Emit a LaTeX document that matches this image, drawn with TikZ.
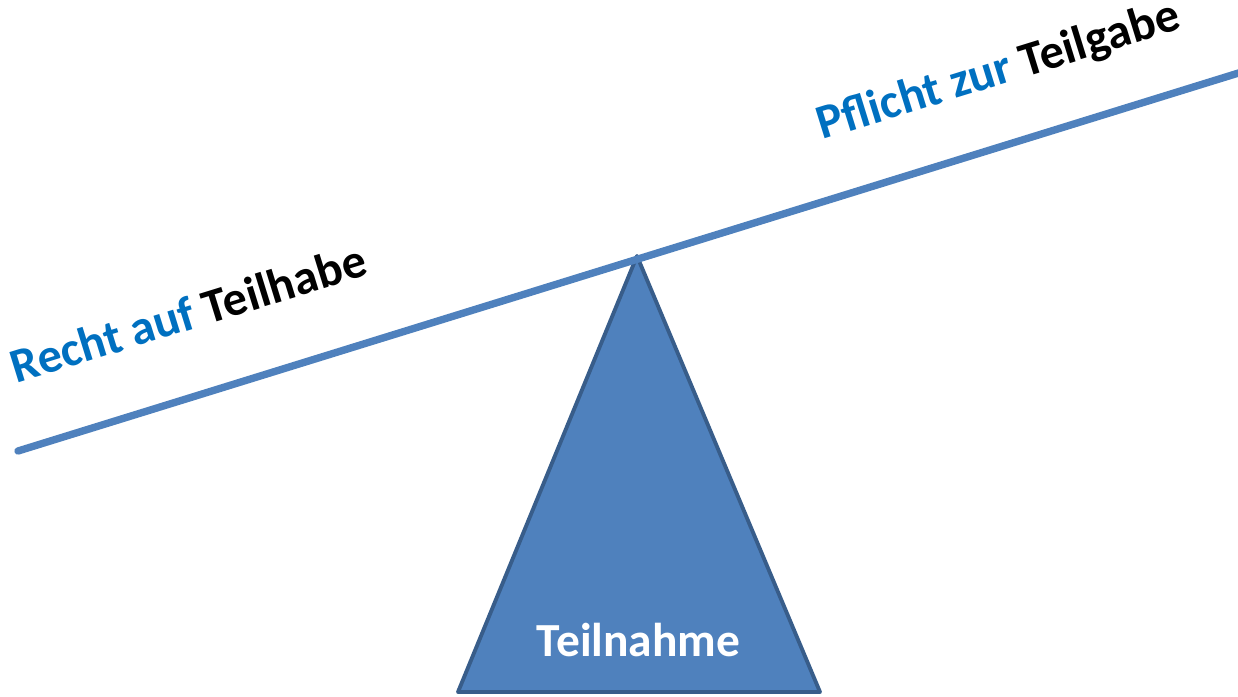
\documentclass[tikz,border=0pt]{standalone}
\usepackage{fontspec}
\setmainfont{Carlito}
\definecolor{beamblue}{HTML}{4F81BD}
\definecolor{edgeblue}{HTML}{385D8A}
\definecolor{wordblue}{HTML}{0070C0}
\tikzset{
  beam/.style={line width=2.1pt, beamblue, line cap=round},
  pivot/.style={fill=beamblue, draw=edgeblue, line width=1.1pt, line join=round},
  tilted/.style={anchor=base west, rotate=17.2, inner sep=0pt, font=\fontsize{13.8}{16}\selectfont\bfseries}
}
\begin{document}
\begin{tikzpicture}[x=0.01cm, y=-0.01cm]
\useasboundingbox (0,0) rectangle (1238,696);
\coordinate (top) at (637,256);
\coordinate (baseL) at (458,692);
\coordinate (baseR) at (820,692);
\coordinate (beamL) at (18,451);
\coordinate (beamR) at (1245,71);
\draw[pivot] (top) -- (baseR) -- (baseL) -- cycle;
\draw[beam] (beamL) -- (beamR);
\node[tilted] (recht) at (16,384) {\color{wordblue}Recht auf \color{black}Teilhabe};
\node[tilted] (pflicht) at (822,140) {\color{wordblue}Pflicht zur \color{black}Teilgabe};
\node[anchor=base, text=white, inner sep=0pt, font=\fontsize{13.5}{16}\selectfont\bfseries] (teilnahme) at (638.5,656) {Teilnahme};
\end{tikzpicture}
\end{document}
